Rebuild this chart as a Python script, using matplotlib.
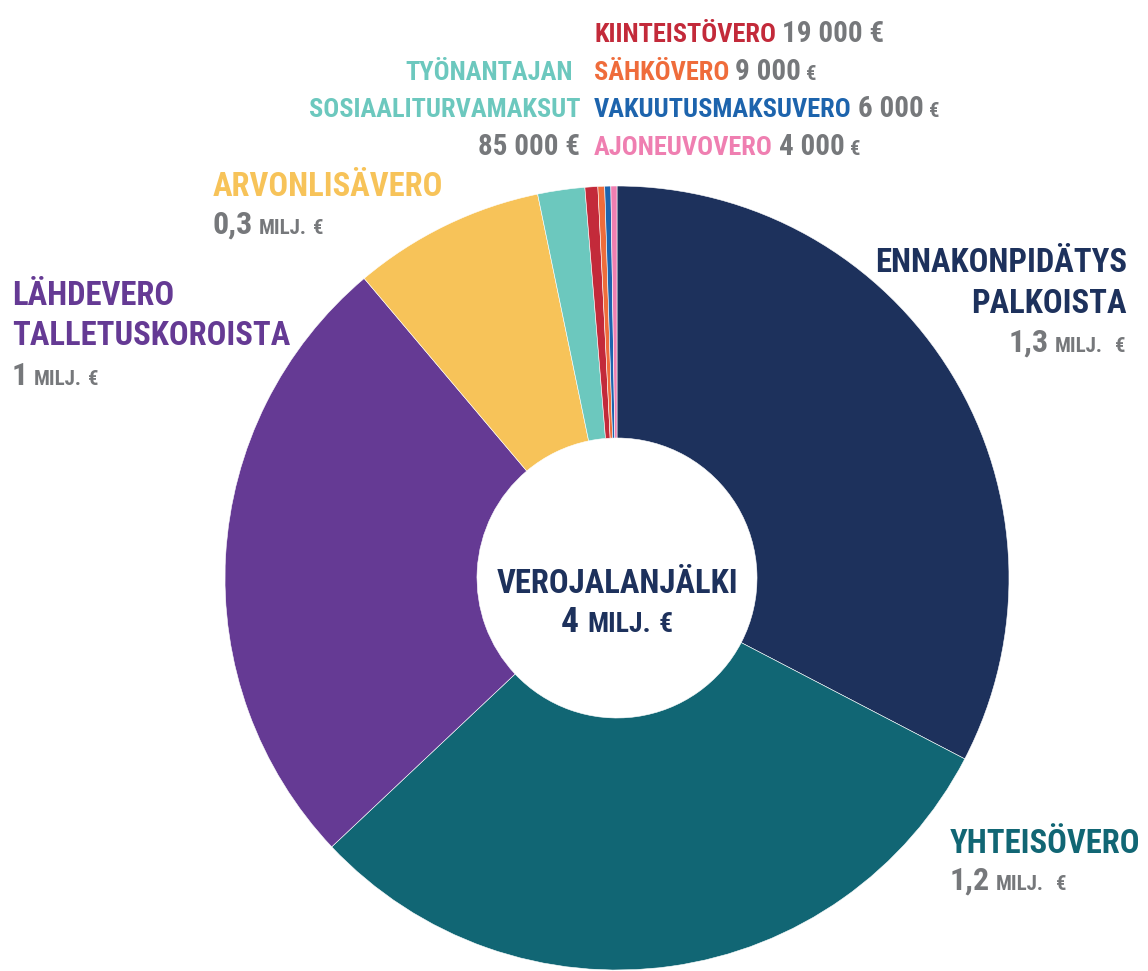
import matplotlib
matplotlib.use("Agg")
import matplotlib.pyplot as plt
from matplotlib import font_manager

# slices, clockwise from the top (euros)
names = ["Ennakonpidätys palkoista", "Yhteisövero", "Lähdevero talletuskoroista",
         "Arvonlisävero", "Työnantajan sosiaaliturvamaksut", "Kiinteistövero",
         "Sähkövero", "Vakuutusmaksuvero", "Ajoneuvovero"]
values = [1279000, 1189000, 1014000, 310000, 76000, 20700, 10900, 9800, 9800]
colors = ["#1d315c", "#116674", "#653a94", "#f7c359", "#6cc8be",
          "#c32a3a", "#ef6c3b", "#1d64ad", "#ef7fb1"]
GRAY = "#76787b"

avail = {f.name for f in font_manager.fontManager.ttflist}
FONT = "DejaVu Sans"
for cand in ["Roboto Condensed", "Liberation Sans Narrow", "Open Sans Condensed"]:
    if cand in avail:
        FONT = cand
        break
plt.rcParams["font.family"] = [FONT, "DejaVu Sans"]
plt.rcParams["font.weight"] = "bold"

W, H = 1148, 971
fig = plt.figure(figsize=(W / 100, H / 100), dpi=100)
ax = fig.add_axes([0, 0, 1, 1])
cx, cy, R, r_in = 617, 578, 392, 140
ax.pie(values, colors=colors, startangle=90, counterclock=False,
       center=(cx, H - cy), radius=R,
       wedgeprops=dict(width=R - r_in, edgecolor="white", linewidth=0.4))
ax.set_xlim(0, W)
ax.set_ylim(0, H)
ax.set_aspect("equal")
ax.axis("off")

renderer = fig.canvas.get_renderer()


def runs(x, y, parts, ha="left"):
    """parts: (text, fontsize, color, gap_before_px); x,y in pixels from top-left, y = baseline"""
    objs = []
    total = 0
    for s, size, col, gap in parts:
        t = fig.text(0, 0, s, fontsize=size, color=col, va="baseline", ha="left")
        w = t.get_window_extent(renderer).width
        objs.append((t, w, gap))
        total += gap + w
    if ha == "right":
        x0 = x - total
    elif ha == "center":
        x0 = x - total / 2
    else:
        x0 = x
    for t, w, gap in objs:
        x0 += gap
        t.set_position((x0 / W, 1 - y / H))
        x0 += w


BIG = 23.5
MID = 23
SMALL = 15
TOP = 19

# Ennakonpidätys palkoista
runs(1127, 272, [("ENNAKONPIDÄTYS", BIG, colors[0], 0)], ha="right")
runs(1127, 313, [("PALKOISTA", BIG, colors[0], 0)], ha="right")
runs(1125, 352, [("1,3", MID, GRAY, 0), ("MILJ.", SMALL, GRAY, 6), ("€", SMALL, GRAY, 12)], ha="right")

# Yhteisövero
runs(950, 853, [("YHTEISÖVERO", BIG, colors[1], 0)])
runs(950, 890, [("1,2", MID, GRAY, 0), ("MILJ.", SMALL, GRAY, 6), ("€", SMALL, GRAY, 12)])

# Lähdevero talletuskoroista
runs(12, 305, [("LÄHDEVERO", BIG, colors[2], 0)])
runs(12, 345, [("TALLETUSKOROISTA", BIG, colors[2], 0)])
runs(12, 385, [("1", MID, GRAY, 0), ("MILJ.", SMALL, GRAY, 6), ("€", SMALL, GRAY, 6)])

# Arvonlisävero
runs(213, 196, [("ARVONLISÄVERO", BIG, colors[3], 0)])
runs(213, 234, [("0,3", MID, GRAY, 0), ("MILJ.", SMALL, GRAY, 6), ("€", SMALL, GRAY, 6)])

# Työnantajan sosiaaliturvamaksut
runs(573, 80, [("TYÖNANTAJAN", TOP, colors[4], 0)], ha="right")
runs(581, 117, [("SOSIAALITURVAMAKSUT", TOP, colors[4], 0)], ha="right")
runs(580, 155, [("85 000 €", TOP + 2, GRAY, 0)], ha="right")

# small taxes
runs(594, 42, [("KIINTEISTÖVERO", TOP, colors[5], 0), ("19 000 €", TOP + 2, GRAY, 6)])
runs(594, 80, [("SÄHKÖVERO", TOP, colors[6], 0), ("9 000", TOP + 2, GRAY, 6), ("€", SMALL, GRAY, 5)])
runs(594, 117, [("VAKUUTUSMAKSUVERO", TOP, colors[7], 0), ("6 000", TOP + 2, GRAY, 6), ("€", SMALL, GRAY, 5)])
runs(594, 155, [("AJONEUVOVERO", TOP, colors[8], 0), ("4 000", TOP + 2, GRAY, 6), ("€", SMALL, GRAY, 5)])

# centre
runs(617, 593, [("VEROJALANJÄLKI", BIG, colors[0], 0)], ha="center")
runs(617, 632, [("4", BIG + 2, colors[0], 0), ("MILJ.", MID - 3, colors[0], 8), ("€", MID - 3, colors[0], 8)], ha="center")

fig.savefig("out.png", dpi=100)
